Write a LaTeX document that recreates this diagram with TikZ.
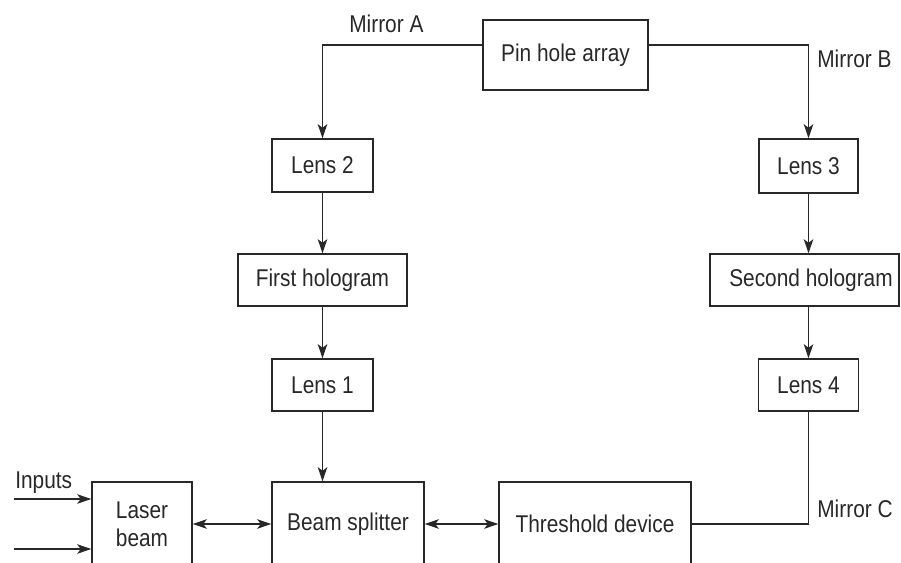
\documentclass[tikz,border=0pt]{standalone}
\usepackage{fontspec}
\setmainfont[FakeStretch=0.86]{Liberation Sans}
\usetikzlibrary{arrows.meta}
\definecolor{ink}{RGB}{40,40,40}
\begin{document}
\begin{tikzpicture}[x=0.02cm,y=-0.02cm,
  txt/.style={font=\fontsize{13.8pt}{16pt}\selectfont, text=ink},
  box/.style={txt, draw=ink, line width=0.8pt, inner sep=0pt, align=center},
  wh/.style 2 args={minimum width=#1*0.02cm, minimum height=#2*0.02cm},
  wire/.style={draw=ink, line width=0.8pt},
  tip/.style={},
  arr/.style={wire, -{Stealth[length=8pt,width=5.4pt,inset=2pt]}},
  barr/.style={wire, {Stealth[length=8pt,width=5.4pt,inset=2pt]}-{Stealth[length=8pt,width=5.4pt,inset=2pt]}},
  lbl/.style={txt, inner sep=0pt, anchor=base west}]
\clip (0,0) rectangle (901,563);
% boxes
\node[box, wh={165}{70}] (pin) at (565.5,55) {Pin hole array};
\node[box, wh={101}{53}] (lens2) at (322.5,165.5) {Lens 2};
\node[box, wh={169}{52}] (first) at (322.5,280) {First hologram};
\node[box, wh={101}{52}] (lens1) at (322.5,385) {Lens 1};
\node[box, wh={99}{54}] (lens3) at (808.5,166) {Lens 3};
\node[box, wh={189}{52}] (second) at (804.5,280) {\hspace*{0.26cm}Second hologram};
\node[box, wh={100}{52}] (lens4) at (808.5,385) {Lens 4};
\node[box, wh={100}{84}] (laser) at (142,524) {Laser\\beam};
\node[box, wh={152}{84}] (bs) at (348,524) {Beam splitter};
\node[box, wh={192}{84}] (thr) at (595,524) {Threshold device};
% bend points and free ends
\coordinate (mA) at (322.5,45);
\coordinate (mB) at (808.5,45);
\coordinate (mC) at (808.5,524);
\coordinate (in1) at (14,499);
\coordinate (in2) at (14,549);
% connectors
\draw[arr] (pin.west |- mA) -- (mA) -- (lens2.north);
\draw[arr] (pin.east |- mB) -- (mB) -- (lens3.north);
\draw[arr] (lens2) -- (first);
\draw[arr] (first) -- (lens1);
\draw[arr] (lens1.south) -- (lens1.south |- bs.north);
\draw[arr] (lens3.south) -- (lens3.south |- second.north);
\draw[arr] (second.south -| lens4) -- (lens4.north);
\draw[wire] (lens4.south) -- (mC) -- (thr.east);
\draw[barr] (laser) -- (bs);
\draw[barr] (bs) -- (thr);
\draw[arr] (in1) -- (in1 -| laser.west);
\draw[arr] (in2) -- (in2 -| laser.west);
% labels
\node[lbl] (labA) at (349,33) {Mirror A};
\node[lbl] (labB) at (817,68) {Mirror B};
\node[lbl] (labC) at (817,517) {Mirror C};
\node[lbl] (labI) at (15,488) {Inputs};
\end{tikzpicture}
\end{document}
